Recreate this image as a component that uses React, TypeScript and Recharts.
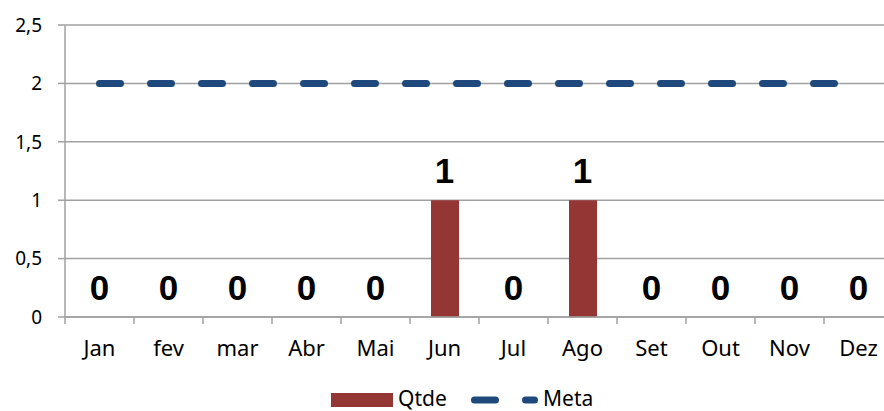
import React from 'react';
import { ComposedChart, Bar, Line, XAxis, YAxis, CartesianGrid, Legend } from 'recharts';

const months = ['Jan', 'fev', 'mar', 'Abr', 'Mai', 'Jun', 'Jul', 'Ago', 'Set', 'Out', 'Nov', 'Dez'];
const qtde = [0, 0, 0, 0, 0, 1, 0, 1, 0, 0, 0, 0];
const meta = [2, 2, 2, 2, 2, 2, 2, 2, 2, 2, 2, 2];
const yTicks = [0, 0.5, 1, 1.5, 2, 2.5];

const data = months.map((m, i) => ({ month: m, qtde: qtde[i], meta: meta[i] }));

const BAR = '#943634';
const LINE = '#1F497D';
const GRID = '#a0a0a0';
const FONT = '"Noto Sans", sans-serif';
const BOLD_FONT = '"Liberation Sans", Arial, sans-serif';

function XTick(props: any) {
  const { x, y, payload } = props;
  const off = payload && typeof payload.offset === 'number' && payload.offset > 0 ? payload.offset : 34.5;
  return (
    <g>
      <line x1={x - off} x2={x - off} y1={y - 7} y2={y} stroke={GRID} strokeWidth={1.5} />
      <text x={x} y={y + 32} textAnchor="middle" fontFamily={FONT} fontSize={22} fill="#000">
        {payload.value}
      </text>
    </g>
  );
}

function ValueLabel(props: any) {
  const { x, y, value, index } = props;
  if (x == null || y == null) return null;
  return (
    <text
      key={`lbl-${index}`}
      x={x}
      y={y - 17}
      textAnchor="middle"
      fontFamily={BOLD_FONT}
      fontSize={35}
      fontWeight="bold"
      fill="#000"
    >
      {value}
    </text>
  );
}

function LegendContent() {
  return (
    <svg width={290} height={30} style={{ display: 'block', overflow: 'visible' }}>
      <rect x={0} y={3} width={62} height={14} fill={BAR} />
      <text x={67} y={16} fontFamily={FONT} fontSize={21} fill="#000">Qtde</text>
      <line x1={143.5} x2={203.5} y1={10} y2={10} stroke={LINE} strokeWidth={7} strokeLinecap="round" strokeDasharray="21 30" />
      <text x={212} y={16} fontFamily={FONT} fontSize={21} fill="#000">Meta</text>
    </svg>
  );
}

export default function App() {
  return (
    <div style={{ position: 'absolute', left: 0, top: 0, width: 884, height: 411, overflow: 'hidden', background: '#fff' }}>
      <ComposedChart width={900} height={411} data={data} margin={{ top: 25, right: 7, bottom: 0, left: 0 }}>
        <CartesianGrid vertical={false} stroke={GRID} strokeWidth={1.5} />
        <XAxis
          dataKey="month"
          height={94}
          axisLine={{ stroke: GRID, strokeWidth: 1.5 }}
          tickLine={false}
          tickSize={7}
          tickMargin={0}
          tick={<XTick />}
          interval={0}
        />
        <YAxis
          width={65}
          domain={[0, 2.5]}
          ticks={yTicks}
          interval={0}
          axisLine={{ stroke: GRID, strokeWidth: 1.5 }}
          tickLine={{ stroke: GRID, strokeWidth: 1.5 }}
          tickSize={7}
          tickMargin={16}
          tick={{ fill: '#000', fontSize: 19, fontFamily: FONT }}
          tickFormatter={(v: number) => String(v).replace('.', ',')}
        />
        <Bar dataKey="qtde" name="Qtde" fill={BAR} barSize={28} isAnimationActive={false} />
        <Line
          dataKey="meta"
          name="Meta"
          type="linear"
          stroke={LINE}
          strokeWidth={7}
          strokeLinecap="round"
          strokeDasharray="21 30"
          dot={false}
          activeDot={false}
          isAnimationActive={false}
        />
        <Line
          dataKey="qtde"
          legendType="none"
          stroke="none"
          dot={false}
          activeDot={false}
          label={<ValueLabel />}
          isAnimationActive={false}
        />
        <Legend
          layout="horizontal"
          verticalAlign="middle"
          align="center"
          content={<LegendContent />}
          wrapperStyle={{ left: 331, top: 390, width: 290, height: 30 }}
        />
      </ComposedChart>
    </div>
  );
}
